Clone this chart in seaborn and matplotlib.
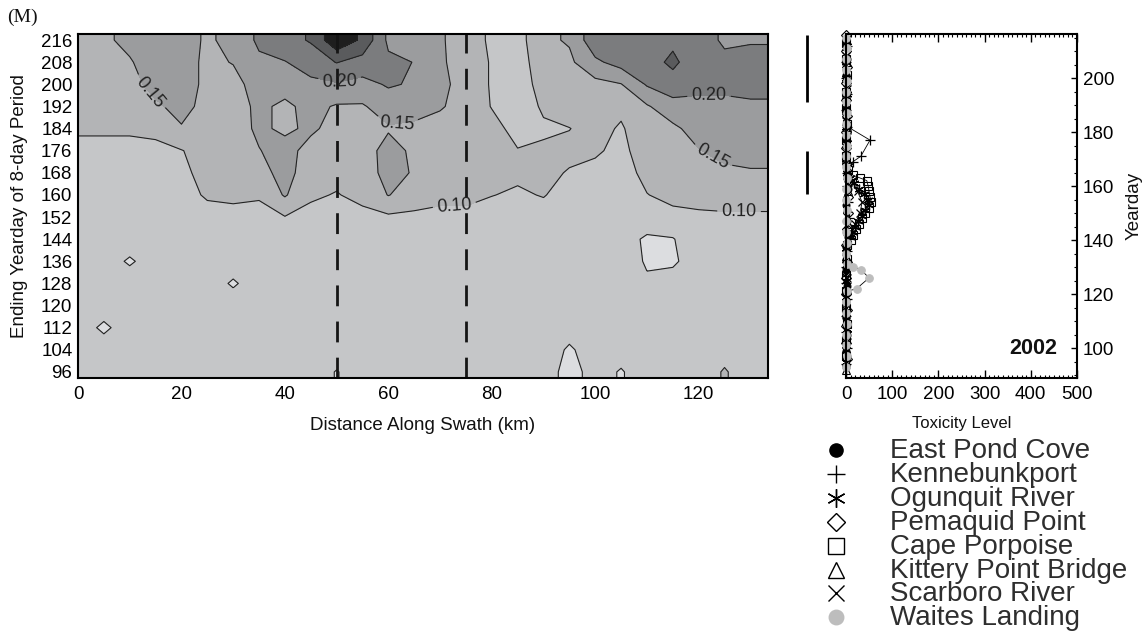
import numpy as np
import pandas as pd
import seaborn as sns
import matplotlib
matplotlib.use("Agg")
import matplotlib.pyplot as plt
from matplotlib.ticker import MultipleLocator, NullLocator
from matplotlib.transforms import blended_transform_factory

sns.set_theme(style="ticks")
plt.rcParams["font.family"] = ["Liberation Sans", "DejaVu Sans"]

# ---------------- contour data (toxicity fraction) ----------------
distance_km = [0, 5, 10, 15, 20, 25, 30, 35, 40, 45, 50, 55, 60, 65, 70,
               75, 80, 85, 90, 95, 100, 105, 110, 115, 120, 125, 130, 135]
yeardays = [96, 104, 112, 120, 128, 136, 144, 152, 160, 168, 176, 184, 192, 200, 208, 216]

r096 = [.070, .070, .070, .070, .070, .070, .070, .070, .070, .070, .048, .070, .070, .070,
        .070, .070, .070, .070, .070, .035, .065, .047, .070, .070, .070, .105, .070, .070]
r104 = [.070, .068, .070, .070, .070, .070, .070, .070, .070, .070, .070, .070, .070, .070,
        .070, .070, .070, .070, .070, .045, .068, .065, .070, .070, .070, .080, .070, .070]
r112 = [.068, .043, .068, .070, .070, .070, .070, .070, .070, .070, .070, .070, .070, .070,
        .070, .070, .070, .070, .070, .065, .070, .070, .070, .070, .070, .070, .070, .070]
r120 = [.070, .068, .070, .070, .070, .070, .070, .070, .070, .070, .070, .070, .070, .070,
        .070, .070, .070, .070, .070, .070, .070, .070, .070, .070, .070, .070, .070, .070]
r128 = [.072, .070, .070, .070, .070, .070, .045, .070, .070, .070, .070, .070, .070, .070,
        .070, .070, .070, .070, .070, .070, .070, .070, .055, .066, .070, .070, .070, .070]
r136 = [.070, .068, .045, .068, .070, .070, .070, .070, .070, .070, .070, .070, .070, .070,
        .070, .070, .070, .070, .070, .070, .070, .070, .046, .044, .070, .070, .070, .070]
r144 = [.072, .070, .070, .070, .072, .075, .075, .075, .085, .080, .078, .078, .078, .078,
        .078, .078, .078, .078, .075, .072, .072, .072, .042, .047, .085, .085, .085, .085]
r152 = [.075, .075, .075, .075, .078, .085, .085, .085, .098, .090, .085, .090, .092, .090,
        .090, .090, .085, .080, .085, .075, .075, .075, .080, .090, .095, .095, .095, .095]
r160 = [.080, .080, .080, .080, .085, .105, .110, .105, .155, .105, .098, .110, .152, .125,
        .110, .110, .101, .095, .102, .085, .080, .080, .099, .110, .110, .115, .115, .115]
r168 = [.085, .085, .085, .085, .090, .115, .120, .130, .170, .120, .110, .120, .170, .145,
        .120, .120, .115, .107, .110, .097, .090, .085, .110, .120, .130, .140, .145, .145]
r176 = [.090, .090, .090, .090, .098, .120, .120, .148, .170, .130, .120, .125, .170, .140,
        .125, .125, .120, .102, .105, .110, .105, .090, .120, .125, .148, .165, .170, .170]
r184 = [.105, .105, .105, .110, .145, .125, .125, .160, .140, .160, .130, .130, .145, .140,
        .130, .125, .115, .085, .095, .099, .115, .095, .130, .140, .170, .180, .185, .185]
r192 = [.120, .120, .120, .140, .170, .130, .130, .160, .140, .165, .145, .145, .175, .170,
        .155, .130, .098, .080, .105, .120, .125, .110, .145, .180, .190, .190, .195, .195]
r200 = [.125, .125, .130, .170, .180, .135, .135, .170, .170, .190, .195, .185, .205, .195,
        .160, .135, .095, .080, .115, .130, .135, .148, .205, .230, .210, .210, .210, .210]
r208 = [.130, .135, .145, .180, .170, .140, .152, .190, .198, .220, .252, .230, .210, .199,
        .155, .135, .095, .080, .125, .140, .190, .220, .230, .260, .220, .215, .220, .220]
r216 = [.130, .140, .165, .175, .165, .145, .160, .210, .230, .255, .340, .290, .190, .160,
        .155, .130, .090, .080, .140, .155, .235, .230, .220, .240, .230, .190, .195, .195]

fill_levels = [-1.0, 0.05, 0.10, 0.15, 0.20, 0.25, 0.30, 1.0]
plain_levels = [0.05, 0.25, 0.30]
fill_colors = ["#dcdde0", "#c5c6c8", "#b3b4b6", "#9b9c9e", "#7b7c7e", "#5a5b5d", "#1e1e1e"]
section_km = [50, 75]

x_ticks = [0, 20, 40, 60, 80, 100, 120]
y_ticks = [96, 104, 112, 120, 128, 136, 144, 152, 160, 168, 176, 184, 192, 200, 208, 216]

# ---------------- station toxicity time series ----------------
stations = ["East Pond Cove", "Kennebunkport", "Ogunquit River", "Pemaquid Point",
            "Cape Porpoise", "Kittery Point Bridge", "Scarboro River", "Waites Landing"]

epc_day = [93, 99, 105, 111, 117, 123, 129, 135, 141, 147, 153, 159, 165, 171, 177, 183, 189, 195, 201, 207, 213]
epc_tox = [0, 0, 2, 0, 0, 3, 0, 0, 4, 2, 0, 5, 3, 0, 0, 2, 0, 0, 0, 2, 0]
kpt_day = [94, 100, 106, 112, 118, 124, 130, 136, 142, 148, 154, 160, 165, 169, 171, 177, 182, 188, 194, 200, 206, 212]
kpt_tox = [0, 2, 0, 0, 3, 0, 0, 2, 4, 6, 5, 3, 2, 15, 32, 52, 3, 0, 2, 0, 0, 2]
ogr_day = [95, 101, 107, 113, 119, 125, 131, 137, 141, 143, 145, 147, 149, 151, 153, 155, 157,
           159, 161, 163, 165, 170, 176, 182, 188, 194, 200, 206, 212]
ogr_tox = [0, 0, 2, 0, 0, 0, 3, 0, 8, 14, 20, 27, 35, 42, 50, 48, 38, 28, 18, 8, 3, 0, 2, 0, 0, 3, 0, 0, 2]
pmq_day = [96, 102, 108, 114, 120, 126, 132, 138, 144, 150, 156, 162, 168, 174, 180, 186, 192, 198, 204, 210, 216]
pmq_tox = [2, 0, 0, 3, 0, 0, 2, 0, 3, 5, 4, 6, 2, 0, 0, 3, 0, 0, 2, 0, 0]
cpp_day = [97, 103, 109, 115, 121, 127, 133, 138, 140, 142, 144, 146, 148, 150, 152, 154, 156, 158,
           160, 162, 163, 164, 166, 171, 177, 183, 189, 195, 201, 207, 213]
cpp_tox = [0, 0, 2, 0, 0, 0, 3, 2, 10, 15, 22, 28, 35, 42, 50, 55, 52, 50, 48, 45, 30, 15, 4,
           0, 0, 2, 0, 0, 2, 0, 0]
kpb_day = [92, 98, 104, 110, 116, 122, 128, 134, 140, 146, 152, 158, 164, 170, 176, 182, 188, 194, 200, 206, 212]
kpb_tox = [0, 2, 0, 0, 0, 2, 0, 0, 3, 4, 3, 5, 2, 0, 0, 2, 0, 0, 0, 3, 0]
scb_day = [95, 100, 105, 110, 115, 121, 126, 131, 136, 142, 146, 150, 154, 158, 162, 167, 173,
           178, 184, 190, 196, 202, 208, 214]
scb_tox = [0, 0, 2, 0, 0, 0, 2, 0, 0, 10, 20, 30, 35, 25, 12, 4, 0, 2, 0, 0, 2, 0, 0, 0]
wtl_day = [93, 97, 101, 105, 109, 113, 117, 121, 122, 126, 129, 130, 131, 135, 139, 143, 147, 151,
           155, 159, 163, 167, 171, 175, 179, 183, 187, 191, 195, 199, 203, 207, 211, 215]
wtl_tox = [0, 2, 0, 0, 3, 0, 0, 3, 23, 50, 32, 16, 3, 0, 2, 0, 0, 3, 0, 0, 2, 0, 0, 2, 0, 0, 3,
           0, 0, 2, 0, 0, 2, 0]

bar_periods = [(191, 216), (157, 173)]

series = [(epc_day, epc_tox), (kpt_day, kpt_tox), (ogr_day, ogr_tox), (pmq_day, pmq_tox),
          (cpp_day, cpp_tox), (kpb_day, kpb_tox), (scb_day, scb_tox), (wtl_day, wtl_tox)]
marker_styles = [
    dict(marker="o", mfc="black", mec="black", ms=5),
    dict(marker="+", mfc="none", mec="black", ms=7, mew=0.9),
    dict(marker=(6, 2, 0), mfc="none", mec="black", ms=7, mew=0.9),
    dict(marker="D", mfc="none", mec="black", ms=5, mew=0.8),
    dict(marker="s", mfc="none", mec="black", ms=6, mew=0.8),
    dict(marker="^", mfc="none", mec="black", ms=6, mew=0.8),
    dict(marker="x", mfc="none", mec="black", ms=6, mew=0.9),
    dict(marker="o", mfc="#bdbdbd", mec="#bdbdbd", ms=5.5),
]

# ---------------- figure ----------------
W, H = 1145, 636
fig = plt.figure(figsize=(W / 100, H / 100), dpi=100)
ax = fig.add_axes([78 / W, 1 - 378 / H, 690 / W, 344 / H])
ax2 = fig.add_axes([846 / W, 1 - 378 / H, 231 / W, 344 / H])

# main contour panel
Z = np.array([r096, r104, r112, r120, r128, r136, r144, r152,
              r160, r168, r176, r184, r192, r200, r208, r216])
ylo, yhi = 93.8, 218.2
y_ext = np.concatenate([[ylo], yeardays, [yhi]])
Z_ext = np.vstack([Z[:1], Z, Z[-1:]])

ax.contourf(distance_km, y_ext, Z_ext, levels=fill_levels, colors=fill_colors)
line_kw = dict(colors="#232323", linewidths=0.8)
ax.contour(distance_km, y_ext, Z_ext, levels=plain_levels, **line_kw)
cs10 = ax.contour(distance_km, y_ext, Z_ext, levels=[0.10], **line_kw)
cs15 = ax.contour(distance_km, y_ext, Z_ext, levels=[0.15], **line_kw)
cs20 = ax.contour(distance_km, y_ext, Z_ext, levels=[0.20], **line_kw)

lab_kw = dict(fmt="%.2f", fontsize=13, inline=True, inline_spacing=4, colors="#222222")
ax.clabel(cs15, manual=[(14.5, 198), (61.5, 187), (122.6, 173.5)], **lab_kw)
ax.clabel(cs20, manual=[(50.6, 200.8), (122.0, 196.5)], **lab_kw)
ax.clabel(cs10, manual=[(72.8, 158.0), (127.8, 154.8)], **lab_kw)

for xk in section_km:
    ax.axvline(xk, color="#151515", lw=2.0, ls=(0, (7.5, 5.5)), zorder=3)

ax.set_xlim(0, 133.4)
ax.set_ylim(ylo, yhi)
ax.set_xticks(x_ticks)
ax.set_xticklabels([str(v) for v in x_ticks])
ax.xaxis.set_minor_locator(MultipleLocator(5))
ax.set_yticks(y_ticks)
ax.set_yticklabels([str(v) for v in y_ticks])
ax.yaxis.set_minor_locator(NullLocator())
ax.tick_params(axis="both", which="both", direction="in", top=True, right=True,
               colors="black", labelsize=13.5)
ax.tick_params(axis="y", which="major", length=8.5, width=1.3, pad=4)
ax.tick_params(axis="x", which="major", length=5, width=1.3, pad=6)
ax.tick_params(axis="x", which="minor", length=2.5, width=1.0)
ax.set_xlabel("Distance Along Swath (km)", fontsize=13.5, labelpad=10, color="#111111")
ax.set_ylabel("Ending Yearday of 8-day Period", fontsize=13.5, labelpad=9, color="#111111")
for sp in ax.spines.values():
    sp.set_linewidth(1.5)
    sp.set_color("black")
    sp.set_zorder(5)

# right panel: toxicity time series
for (days, tox), st in zip(series, marker_styles):
    sns.lineplot(x=tox, y=days, orient="y", sort=False, estimator=None, errorbar=None,
                 color="black", lw=0.6, ax=ax2, clip_on=False, **st)

ax2.set_xlim(0, 500)
ax2.set_ylim(88.9, 216.3)
ax2.set_xticks([0, 100, 200, 300, 400, 500])
ax2.xaxis.set_minor_locator(MultipleLocator(10))
ax2.set_yticks([100, 120, 140, 160, 180, 200])
ax2.yaxis.set_minor_locator(MultipleLocator(5))
ax2.yaxis.tick_right()
ax2.yaxis.set_label_position("right")
ax2.tick_params(axis="both", which="both", direction="in", colors="black", labelsize=13.5)
ax2.tick_params(axis="x", which="both", top=True, bottom=True)
ax2.tick_params(axis="y", which="both", left=False, right=True)
ax2.tick_params(axis="x", which="major", length=6, width=1.0, pad=6)
ax2.tick_params(axis="x", which="minor", length=2.2, width=0.8)
ax2.tick_params(axis="y", which="major", length=4, width=1.0, pad=4)
ax2.tick_params(axis="y", which="minor", length=2.2, width=0.8)
ax2.set_xlabel("Toxicity Level", fontsize=12, labelpad=9, color="#111111")
ax2.set_ylabel("Yearday", fontsize=13.5, labelpad=8, color="#111111")
for sp in ax2.spines.values():
    sp.set_linewidth(1.5)
    sp.set_color("black")
ax2.text(0.913, 0.055, "2002", transform=ax2.transAxes, ha="right", va="bottom",
         fontsize=15.5, fontweight="bold", color="#111111")

trans = blended_transform_factory(ax2.transAxes, ax2.transData)
for y0, y1 in bar_periods:
    ax2.plot([-0.169, -0.169], [y0, y1], transform=trans, color="black", lw=2.0,
             clip_on=False, solid_capstyle="butt")

# legend block below the right panel
lax = fig.add_axes([0, 0, 1, 1], zorder=-1)
lax.set_xlim(0, W)
lax.set_ylim(H, 0)
lax.axis("off")
for i, (name, st) in enumerate(zip(stations, marker_styles)):
    yb = 458 + 23.9 * i
    kw = dict(st)
    kw["ms"] = kw["ms"] * 1.9
    if "mew" in kw:
        kw["mew"] = 1.0
    lax.plot([836], [yb - 8], linestyle="none", **kw)
    lax.text(890, yb, name, fontsize=20, va="baseline", ha="left", color="#2e2e2e")

fig.text(7 / W, 1 - 9 / H, "(M)", fontsize=14, family=["Liberation Serif", "DejaVu Serif"],
         va="top", ha="left", color="#111111")

fig.savefig("out.png", dpi=100)
